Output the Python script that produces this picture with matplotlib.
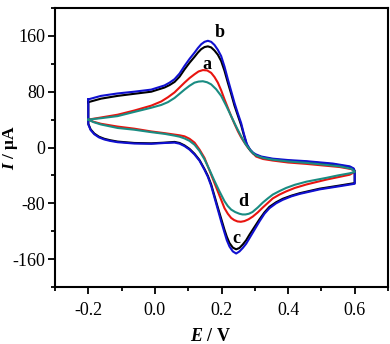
import matplotlib
matplotlib.use("Agg")
import matplotlib.pyplot as plt
from matplotlib.ticker import MultipleLocator

plt.rcParams['font.family'] = ['Liberation Serif', 'DejaVu Serif']
plt.rcParams['mathtext.fontset'] = 'custom'
plt.rcParams['mathtext.bfit'] = 'Liberation Serif:italic:bold'
plt.rcParams['mathtext.rm'] = 'Liberation Serif'
plt.rcParams['mathtext.it'] = 'Liberation Serif:italic'
plt.rcParams['mathtext.bf'] = 'Liberation Serif:bold'

# ---- data (E / V, I / uA), closed CV loops ----
# curve a (red)
a_E = [-0.2, -0.162, -0.112, -0.062, -0.011, 0.019, 0.039, 0.059, 0.074, 0.089, 0.104, 0.119, 0.131, 0.144, 0.157, 0.169, 0.179, 0.189, 0.199, 0.209, 0.219, 0.229, 0.239, 0.249, 0.259, 0.269, 0.279, 0.29, 0.304, 0.325, 0.354, 0.40, 0.455, 0.555, 0.59, 0.6,
       0.6, 0.585, 0.55, 0.515, 0.455, 0.42, 0.394, 0.374, 0.354, 0.339, 0.324, 0.309, 0.294, 0.281, 0.269, 0.258, 0.248, 0.238, 0.229, 0.219, 0.209, 0.199, 0.189, 0.179, 0.164, 0.149, 0.134, 0.119, 0.104, 0.089, 0.074, 0.059, 0.03, -0.011, -0.062, -0.112, -0.162, -0.185, -0.2]
a_I = [40, 43, 47, 53, 60, 66, 72, 79, 86, 93, 99.5, 105, 109, 111, 110.5, 107, 101, 93, 82, 69, 57, 45, 34, 23.5, 14.5, 7, 0, -6, -13, -16.5, -18.7, -21.5, -23.5, -28, -31, -34,
       -35, -39, -42.5, -46, -53, -58, -63, -67.5, -73, -79.5, -86, -93, -99, -103, -105.5, -106.5, -106, -104, -101, -95, -87, -75, -63, -51, -33, -15, -3, 7, 12.5, 16, 17.5, 18.5, 20.5, 23, 27, 30, 34, 37, 40]

# curve b (black)
b_E = [-0.2, -0.162, -0.112, -0.062, -0.011, 0.029, 0.044, 0.059, 0.074, 0.089, 0.104, 0.119, 0.129, 0.139, 0.149, 0.159, 0.169, 0.179, 0.189, 0.199, 0.209, 0.219, 0.229, 0.239, 0.249, 0.259, 0.267, 0.276, 0.286, 0.295, 0.304, 0.32, 0.354, 0.40, 0.455, 0.534, 0.585, 0.597, 0.6,
       0.6, 0.555, 0.495, 0.435, 0.41, 0.384, 0.364, 0.344, 0.329, 0.314, 0.299, 0.284, 0.274, 0.264, 0.254, 0.244, 0.234, 0.224, 0.216, 0.209, 0.199, 0.189, 0.179, 0.169, 0.159, 0.149, 0.134, 0.119, 0.104, 0.089, 0.074, 0.059, 0.03, -0.011, -0.062, -0.112, -0.135, -0.152, -0.168, -0.182, -0.193, -0.2, -0.2]
b_I = [65, 70, 74, 77, 80, 86, 89.5, 94, 101.5, 112, 121.5, 130, 136, 141, 144, 145, 143.5, 139, 133, 124, 110, 93, 77, 60, 46, 32, 18, 4, -4, -8.5, -11, -14, -17, -19, -20.5, -24, -28, -31, -34,
       -51, -54.5, -59, -65.5, -69, -73.5, -78.5, -85, -93, -103, -114, -125, -133, -139, -144, -146, -143.5, -137, -128, -118, -102, -86, -69.5, -53, -40.5, -31, -18, -9, -2, 3, 6.5, 8, 7, 6, 6.5, 8.5, 10.5, 12.5, 15.5, 20, 26, 34, 65]

# curve c (blue)
c_E = [-0.2, -0.162, -0.112, -0.062, -0.011, 0.029, 0.044, 0.059, 0.074, 0.089, 0.104, 0.119, 0.129, 0.139, 0.149, 0.159, 0.169, 0.179, 0.189, 0.199, 0.209, 0.219, 0.229, 0.239, 0.249, 0.259, 0.267, 0.276, 0.286, 0.295, 0.304, 0.32, 0.354, 0.40, 0.455, 0.534, 0.585, 0.597, 0.6,
       0.6, 0.555, 0.495, 0.435, 0.41, 0.384, 0.364, 0.344, 0.329, 0.314, 0.299, 0.284, 0.274, 0.264, 0.254, 0.244, 0.234, 0.224, 0.216, 0.209, 0.199, 0.189, 0.179, 0.169, 0.159, 0.149, 0.134, 0.119, 0.104, 0.089, 0.074, 0.059, 0.03, -0.011, -0.062, -0.112, -0.135, -0.152, -0.168, -0.182, -0.193, -0.2, -0.2]
c_I = [69, 74, 77.5, 80, 83, 89, 93, 98, 106, 117, 127, 136, 142.5, 148, 151.5, 153, 151.5, 147, 140, 131, 116, 98, 81, 64, 49, 35, 20, 5, -3, -7.5, -10, -13, -16, -18, -19.6, -23, -27, -30, -34,
       -52, -55.5, -60, -66.5, -70, -75, -80, -87, -95, -106, -118, -130, -138, -144, -149, -152, -149, -142, -133, -122, -106, -89, -72, -55, -42, -32, -19, -10, -3, 2, 5.5, 7, 6.5, 5.3, 5.7, 7.6, 9.5, 11.5, 14.5, 19, 25, 33, 69]

# curve d (teal)
d_E = [-0.2, -0.162, -0.112, -0.062, -0.011, 0.019, 0.039, 0.059, 0.074, 0.089, 0.104, 0.119, 0.131, 0.144, 0.157, 0.169, 0.184, 0.199, 0.214, 0.229, 0.244, 0.259, 0.272, 0.285, 0.295, 0.304, 0.325, 0.354, 0.40, 0.455, 0.555, 0.59, 0.6,
       0.6, 0.585, 0.55, 0.515, 0.455, 0.42, 0.394, 0.374, 0.354, 0.339, 0.324, 0.309, 0.293, 0.282, 0.272, 0.263, 0.254, 0.241, 0.229, 0.219, 0.209, 0.194, 0.179, 0.164, 0.149, 0.134, 0.119, 0.104, 0.089, 0.074, 0.059, 0.03, -0.011, -0.062, -0.112, -0.162, -0.185, -0.2]
d_I = [40, 42, 45, 51, 57, 61, 65, 71, 77, 83, 88.5, 93, 94.5, 95, 93.5, 90.5, 83.5, 74, 60, 45, 30, 16, 5, -3, -8, -11.5, -15, -17.5, -20, -22, -27, -30.5, -34.5,
       -35, -37, -40, -43.5, -49, -53.5, -58, -62.5, -67.5, -73, -79, -86, -92.5, -95, -96, -96, -95, -92.5, -89, -84, -77, -63, -48, -32, -17, -5, 4, 9.5, 13, 15.5, 17, 19.5, 22, 25.5, 28, 33, 36.5, 40]

labels = ['a', 'b', 'c', 'd']
label_E = [0.157, 0.194, 0.246, 0.266]
label_I = [119, 165, -130, -77]

xticks = [-0.2, 0.0, 0.2, 0.4, 0.6]
yticks = [-160, -80, 0, 80, 160]

fig = plt.figure(figsize=(3.9, 3.44), dpi=100)
ax = fig.add_axes([55/390, 1-287/344, (388-55)/390, (287-8)/344])

ax.plot(a_E, a_I, color='#e8140f', lw=1.5)
ax.plot(b_E, b_I, color='black', lw=1.5)
ax.plot(c_E, c_I, color='#1010d0', lw=1.5)
ax.plot(d_E, d_I, color='#1a8c82', lw=1.5)

for t, xe, yi in zip(labels, label_E, label_I):
    ax.text(xe, yi, t, fontsize=13, fontweight='bold', ha='center', va='center')

ax.set_xlim(-0.3, 0.7)
ax.set_ylim(-200, 200)
ax.set_xticks(xticks)
ax.set_xticklabels(['-0.2', '0.0', '0.2', '0.4', '0.6'])
ax.set_yticks(yticks)
ax.set_yticklabels([str(v) for v in yticks])
ax.xaxis.set_minor_locator(MultipleLocator(0.1))
ax.yaxis.set_minor_locator(MultipleLocator(40))
ax.tick_params(which='both', direction='out', top=False, right=False, width=1.3, labelsize=13)
ax.tick_params(which='major', length=5)
ax.tick_params(which='minor', length=3)
ax.tick_params(axis='x', pad=6)
ax.tick_params(axis='y', pad=2)
for s in ax.spines.values():
    s.set_linewidth(1.5)

ax.set_xlabel(r'$\mathbfit{E}$ / V', fontsize=13, fontweight='bold')
ax.set_ylabel(r'$\mathbfit{I}$ / μA', fontsize=12.5, fontweight='bold')
ax.xaxis.set_label_coords(0.468, -0.148)
ax.yaxis.set_label_coords(-0.105, 0.5)

fig.savefig('out.png', dpi=100)
